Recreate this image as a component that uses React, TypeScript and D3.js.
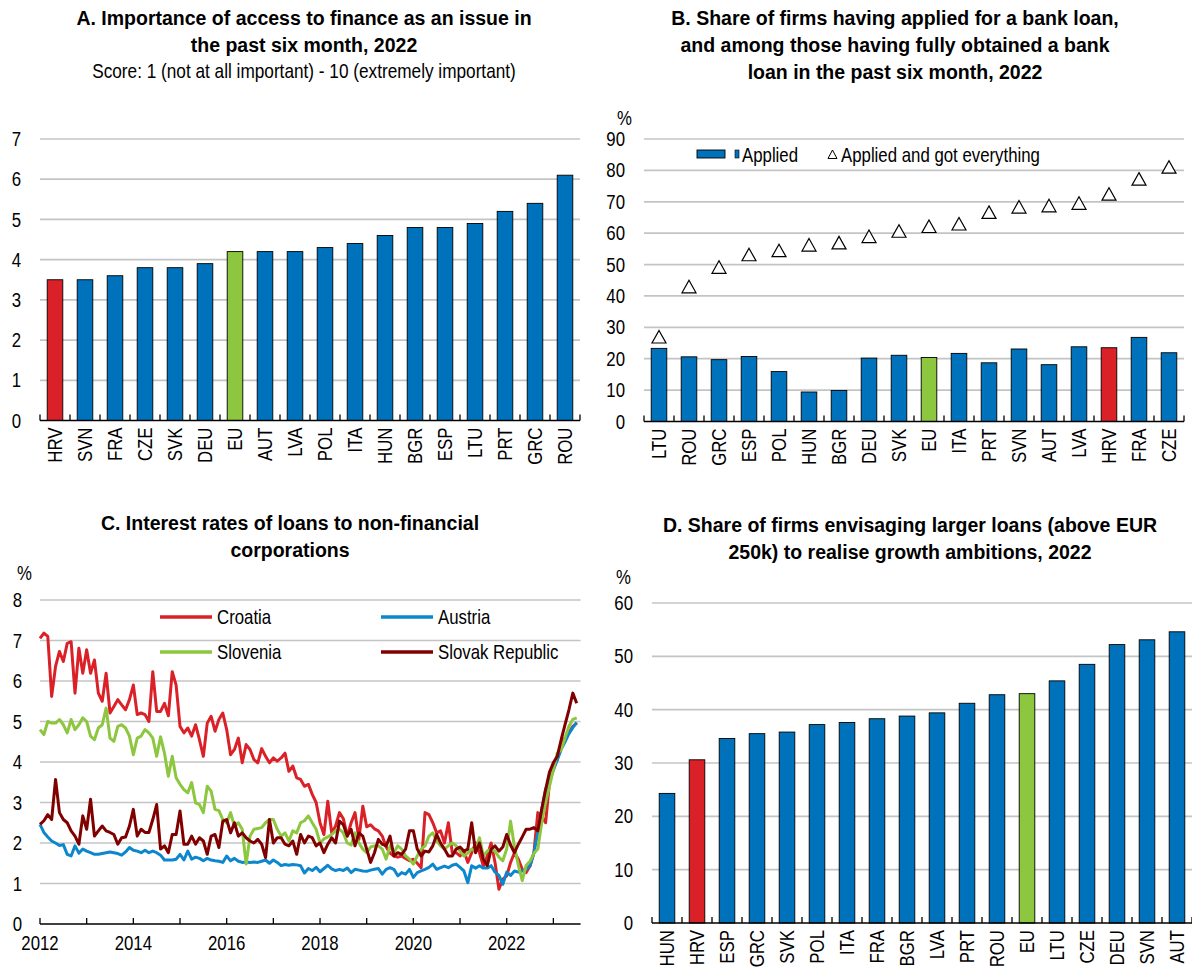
import React from "react";
import * as d3 from "d3";

// ---------- DATA ----------
const catsA = ["HRV","SVN","FRA","CZE","SVK","DEU","EU","AUT","LVA","POL","ITA","HUN","BGR","ESP","LTU","PRT","GRC","ROU"];
const valsA = [3.5,3.5,3.6,3.8,3.8,3.9,4.2,4.2,4.2,4.3,4.4,4.6,4.8,4.8,4.9,5.2,5.4,6.1];

const catsB = ["LTU","ROU","GRC","ESP","POL","HUN","BGR","DEU","SVK","EU","ITA","PRT","SVN","AUT","LVA","HRV","FRA","CZE"];
const appliedB = [23.3,20.6,19.7,20.7,15.9,9.4,9.9,20.2,21.1,20.4,21.7,18.7,23.1,18.1,23.8,23.5,26.8,21.9];
const gotAllB = [26.6,42.6,48.8,52.8,54.1,55.9,56.6,58.6,60.3,61.8,62.6,66.3,68.0,68.4,69.2,72.1,76.9,80.7];

const catsD = ["HUN","HRV","ESP","GRC","SVK","POL","ITA","FRA","BGR","LVA","PRT","ROU","EU","LTU","CZE","DEU","SVN","AUT"];
const valsD = [24.3,30.6,34.6,35.5,35.8,37.2,37.6,38.3,38.8,39.4,41.2,42.8,43.0,45.4,48.5,52.2,53.1,54.6];

const ticksA = [0,1,2,3,4,5,6,7];
const ticksB = [0,10,20,30,40,50,60,70,80,90];
const ticksC = [0,1,2,3,4,5,6,7,8];
const ticksD = [0,10,20,30,40,50,60];
const yearsC = [2012,2013,2014,2015,2016,2017,2018,2019,2020,2021,2022,2023];

// monthly, Jan 2012 - Jul 2023
const croatia = [
 7.05,7.18,7.10,5.62,6.36,6.73,6.48,6.93,6.97,5.70,6.81,6.19,
 6.77,6.19,6.52,5.70,5.50,6.19,5.21,5.37,5.54,5.41,5.29,5.54,
 5.90,5.17,5.21,5.17,5.00,6.23,5.25,5.25,5.45,5.14,6.23,5.90,
 4.88,4.72,4.84,4.64,4.92,4.55,4.14,4.96,5.13,4.76,5.05,5.21,
 4.80,4.18,4.31,4.59,3.98,4.43,4.31,4.06,3.98,4.33,4.14,3.98,
 4.10,4.02,4.10,4.22,3.77,3.90,3.61,3.57,3.40,3.45,3.20,3.00,
 2.50,2.21,3.03,2.25,2.42,2.75,2.60,2.17,2.50,2.75,2.09,2.91,
 2.40,2.45,2.35,2.30,2.17,1.90,1.75,1.68,1.65,1.68,1.62,1.56,
 1.60,1.50,1.39,2.75,2.70,2.50,2.25,2.30,2.00,2.50,1.76,1.76,
 1.68,1.80,1.52,1.76,2.00,1.76,1.43,1.68,2.00,1.52,0.86,1.11,
 1.19,1.52,1.76,1.60,1.35,1.27,1.43,1.76,2.75,2.66,2.50,3.49,
 3.98,4.05,4.47,4.60,4.72,4.88,4.96];
const slovenia = [
 4.80,4.68,5.00,4.96,4.96,5.05,4.92,4.72,5.05,4.80,4.92,5.09,
 5.00,4.64,4.55,4.84,4.92,5.33,4.59,4.51,4.88,4.92,4.84,4.64,
 4.18,4.59,4.64,4.80,4.72,4.59,4.14,4.62,4.22,3.65,4.14,3.61,
 3.45,3.32,3.24,3.49,2.99,2.95,2.75,3.40,3.28,2.83,2.80,2.58,
 2.50,2.75,2.42,2.50,2.34,1.48,2.17,2.34,2.36,2.38,2.50,2.58,
 2.58,2.34,2.17,2.25,2.05,2.30,2.25,2.50,2.55,2.67,2.50,2.34,
 2.00,2.10,2.15,2.21,2.30,2.34,2.25,2.00,1.95,2.25,2.00,1.85,
 1.76,1.90,1.93,1.93,1.85,1.60,1.93,1.76,1.93,1.85,1.68,1.60,
 1.48,1.68,1.85,1.93,2.17,2.25,2.05,1.93,1.85,1.93,2.00,1.93,
 1.80,1.68,1.75,1.85,1.80,2.13,1.68,1.80,1.85,1.80,1.65,1.56,
 1.85,2.54,1.90,1.45,1.07,1.45,1.55,1.75,1.85,2.50,3.00,3.40,
 3.81,4.22,4.30,4.60,4.88,5.05,5.09];
const austria = [
 2.46,2.26,2.15,2.05,2.00,1.94,1.96,1.72,1.68,1.93,1.75,1.85,
 1.80,1.76,1.72,1.72,1.74,1.76,1.78,1.76,1.74,1.70,1.78,1.89,
 1.82,1.80,1.76,1.82,1.76,1.80,1.76,1.70,1.58,1.58,1.58,1.60,
 1.72,1.58,1.80,1.60,1.65,1.62,1.56,1.62,1.58,1.56,1.55,1.52,
 1.68,1.56,1.62,1.55,1.52,1.53,1.52,1.53,1.52,1.55,1.58,1.50,
 1.58,1.52,1.44,1.47,1.45,1.47,1.46,1.44,1.26,1.37,1.32,1.40,
 1.29,1.37,1.45,1.36,1.32,1.35,1.32,1.38,1.27,1.35,1.33,1.31,
 1.30,1.33,1.35,1.37,1.23,1.35,1.39,1.35,1.19,1.27,1.23,1.35,
 1.15,1.27,1.31,1.35,1.40,1.48,1.35,1.39,1.43,1.39,1.45,1.48,
 1.40,1.31,1.02,1.44,1.38,1.44,1.38,1.38,1.44,1.28,1.20,0.98,
 1.28,1.20,1.31,1.28,1.31,1.35,1.44,1.76,2.26,2.83,3.32,3.55,
 3.80,4.05,4.31,4.50,4.70,4.85,4.98];
const slovak = [
 2.46,2.55,2.70,2.58,3.57,2.75,2.58,2.50,2.30,2.17,1.97,2.67,
 2.34,3.08,2.17,2.30,2.42,2.30,2.26,2.21,1.97,2.13,2.15,2.42,
 2.83,2.17,2.34,2.26,2.26,2.58,2.95,1.85,1.93,1.76,2.21,2.21,
 2.79,1.97,1.97,2.17,1.97,2.13,2.05,1.72,2.17,2.21,1.89,2.54,
 2.58,2.25,2.50,2.17,2.25,2.13,2.05,2.00,2.09,1.97,1.64,2.58,
 2.00,2.13,2.13,1.97,1.93,2.05,1.72,2.21,2.00,2.17,2.13,1.93,
 2.00,1.76,1.97,2.13,2.00,2.54,2.45,2.17,2.34,1.93,2.25,2.17,
 1.85,1.52,1.76,2.09,1.97,1.93,2.17,1.68,1.76,1.72,1.85,2.30,
 2.30,1.85,1.68,1.80,1.78,1.93,2.21,2.00,1.85,1.68,1.68,1.85,
 1.90,1.80,1.85,2.50,1.76,2.00,1.60,1.44,1.85,1.93,1.80,1.90,
 2.21,1.95,1.76,1.97,2.15,2.34,2.34,2.38,2.30,2.83,3.32,3.75,
 3.98,4.14,4.55,4.92,5.29,5.70,5.45];

// ---------- STYLE ----------
const SANS = "'Liberation Sans', Arial, Helvetica, sans-serif";
const BLUE = "#0072BC";
const RED = "#DA2128";
const GREEN = "#8DC63F";
const GRID = "#C4C4C4";
const C_CRO = "#DA2128";
const C_AUT = "#0C87CD";
const C_SLO = "#8DC63F";
const C_SVK = "#800000";
const NARROW_K = 0.82;
const FS = 20.5;

const colorFor = (c: string) => (c === "HRV" ? RED : c === "EU" ? GREEN : BLUE);

// Narrow-looking text (Arial Narrow emulation by horizontal compression)
function NT({ x, y, rotate = 0, anchor = "start", size = FS, children }: { x: number; y: number; rotate?: number; anchor?: string; size?: number; children: React.ReactNode }) {
  return (
    <g transform={`translate(${x},${y})${rotate ? ` rotate(${rotate})` : ""} scale(${NARROW_K},1)`}>
      <text textAnchor={anchor as any} dominantBaseline="central" fontSize={size} fontFamily={SANS} fill="#000">{children}</text>
    </g>
  );
}

type BarProps = {
  cats: string[];
  vals: number[];
  ticks: number[];
  x0: number; x1: number; yTop: number; yBot: number;
  tris?: number[];
};

function BarPanel({ cats, vals, ticks, x0, x1, yTop, yBot, tris }: BarProps) {
  const max = ticks[ticks.length - 1];
  const x = d3.scaleBand<string>().domain(cats).range([x0, x1]).paddingInner(0.48).paddingOuter(0.24);
  const y = d3.scaleLinear().domain([0, max]).range([yBot, yTop]);
  const step = x.step();
  const bounds = d3.range(cats.length + 1).map((i) => x0 + i * step);
  return (
    <g>
      {ticks.map((t) => (
        <g key={t}>
          {t > 0 && <line x1={x0} x2={x1} y1={y(t)} y2={y(t)} stroke={GRID} strokeWidth={1.7} />}
          <NT x={x0 - 19} y={y(t)} anchor="end">{t}</NT>
        </g>
      ))}
      {cats.map((c, i) => (
        <rect key={c} x={x(c)} y={y(vals[i])} width={x.bandwidth()} height={y(0) - y(vals[i])} fill={colorFor(c)} stroke="#000" strokeWidth={0.9} />
      ))}
      <line x1={x0} x2={x1} y1={y(0)} y2={y(0)} stroke="#000" strokeWidth={1.5} />
      {bounds.map((b, i) => (
        <line key={i} x1={b} x2={b} y1={y(0)} y2={y(0) - 6} stroke="#000" strokeWidth={1.3} />
      ))}
      {tris && cats.map((c, i) => {
        const cx = (x(c) as number) + x.bandwidth() / 2;
        const cy = y(tris[i]);
        return <path key={"t" + c} d={`M${cx},${cy - 7.5}L${cx + 7},${cy + 5}L${cx - 7},${cy + 5}Z`} fill="#fff" stroke="#000" strokeWidth={1.2} />;
      })}
      {cats.map((c) => {
        const cx = (x(c) as number) + x.bandwidth() / 2;
        return <NT key={"l" + c} x={cx} y={y(0) + 7} rotate={-90} anchor="end">{c}</NT>;
      })}
    </g>
  );
}

function Title({ lines, cx, y0, dy = 27 }: { lines: string[]; cx: number; y0: number; dy?: number }) {
  return (
    <text textAnchor="middle" fontFamily={SANS} fontWeight="bold" fontSize={19.5} fill="#000">
      {lines.map((l, i) => (
        <tspan key={i} x={cx} y={y0 + i * dy}>{l}</tspan>
      ))}
    </text>
  );
}

function LinePanel() {
  const x0 = 40, yTop = 600, yBot = 924;
  const perMonth = 46.67 / 12;
  const x = d3.scaleLinear().domain([0, 139]).range([x0, x0 + 139 * perMonth]);
  const y = d3.scaleLinear().domain([0, 8]).range([yBot, yTop]);
  const x1 = x(139);
  const line = d3.line<number>().x((_, i) => x(i)).y((d) => y(d));
  const series = [
    { name: "Croatia", data: croatia, color: C_CRO },
    { name: "Austria", data: austria, color: C_AUT },
    { name: "Slovenia", data: slovenia, color: C_SLO },
    { name: "Slovak Republic", data: slovak, color: C_SVK },
  ];
  const legend = [
    { name: "Croatia", color: C_CRO, lx: 160, ly: 617 },
    { name: "Austria", color: C_AUT, lx: 381, ly: 617 },
    { name: "Slovenia", color: C_SLO, lx: 160, ly: 652 },
    { name: "Slovak Republic", color: C_SVK, lx: 381, ly: 652 },
  ];
  return (
    <g>
      {ticksC.map((t) => (
        <g key={t}>
          {t > 0 && <line x1={x0} x2={x1} y1={y(t)} y2={y(t)} stroke={GRID} strokeWidth={1.7} />}
          <NT x={x0 - 18} y={y(t)} anchor="end">{t}</NT>
        </g>
      ))}
      {legend.map((l) => (
        <g key={l.name}>
          <line x1={l.lx} x2={l.lx + 52} y1={l.ly} y2={l.ly} stroke={l.color} strokeWidth={3.4} />
          <NT x={l.lx + 57} y={l.ly}>{l.name}</NT>
        </g>
      ))}
      {series.map((s) => (
        <path key={s.name} d={line(s.data) as string} fill="none" stroke={s.color} strokeWidth={3} strokeLinejoin="round" />
      ))}
      <line x1={x0} x2={x1} y1={yBot} y2={yBot} stroke="#000" strokeWidth={1.5} />
      {yearsC.map((yr) => {
        const px = x((yr - 2012) * 12);
        return (
          <g key={yr}>
            <line x1={px} x2={px} y1={yBot} y2={yBot - 6} stroke="#000" strokeWidth={1.3} />
            {yr % 2 === 0 && <NT x={px} y={yBot + 19} anchor="middle">{yr}</NT>}
          </g>
        );
      })}
    </g>
  );
}

export default function App() {
  return (
    <svg width={1192} height={967} viewBox="0 0 1192 967" style={{ position: "absolute", left: 0, top: 0, background: "#fff" }}>
      <rect x={0} y={0} width={1192} height={967} fill="#fff" />
      {/* Panel A */}
      <Title lines={["A. Importance of access to finance as an issue in", "the past six month, 2022"]} cx={304} y0={25} />
      <NT x={304} y={71} anchor="middle" size={21}>Score: 1 (not at all important) - 10 (extremely important)</NT>
      <BarPanel cats={catsA} vals={valsA} ticks={ticksA} x0={40} x1={580} yTop={139} yBot={420.5} />

      {/* Panel B */}
      <Title lines={["B. Share of firms having applied for a bank loan,", "and among those having fully obtained a bank", "loan in the past six month, 2022"]} cx={895} y0={25} />
      <NT x={617} y={118}>%</NT>
      <BarPanel cats={catsB} vals={appliedB} ticks={ticksB} x0={644} x1={1184} yTop={139} yBot={421.5} tris={gotAllB} />
      <rect x={697} y={150} width={28} height={8} fill={BLUE} stroke="#000" strokeWidth={0.9} />
      <rect x={735} y={150} width={4} height={8} fill={BLUE} stroke="#000" strokeWidth={0.6} />
      <NT x={742} y={155}>Applied</NT>
      <path d="M832.5,150L837,158.5L828,158.5Z" fill="#fff" stroke="#000" strokeWidth={1} />
      <NT x={841} y={155}>Applied and got everything</NT>

      {/* Panel C */}
      <Title lines={["C. Interest rates of loans to non-financial", "corporations"]} cx={290} y0={530} />
      <NT x={17} y={573}>%</NT>
      <LinePanel />

      {/* Panel D */}
      <Title lines={["D. Share of firms envisaging larger loans (above EUR", "250k) to realise growth ambitions, 2022"]} cx={910} y0={532} />
      <NT x={616} y={577}>%</NT>
      <BarPanel cats={catsD} vals={valsD} ticks={ticksD} x0={652} x1={1192} yTop={603} yBot={923} />
    </svg>
  );
}
